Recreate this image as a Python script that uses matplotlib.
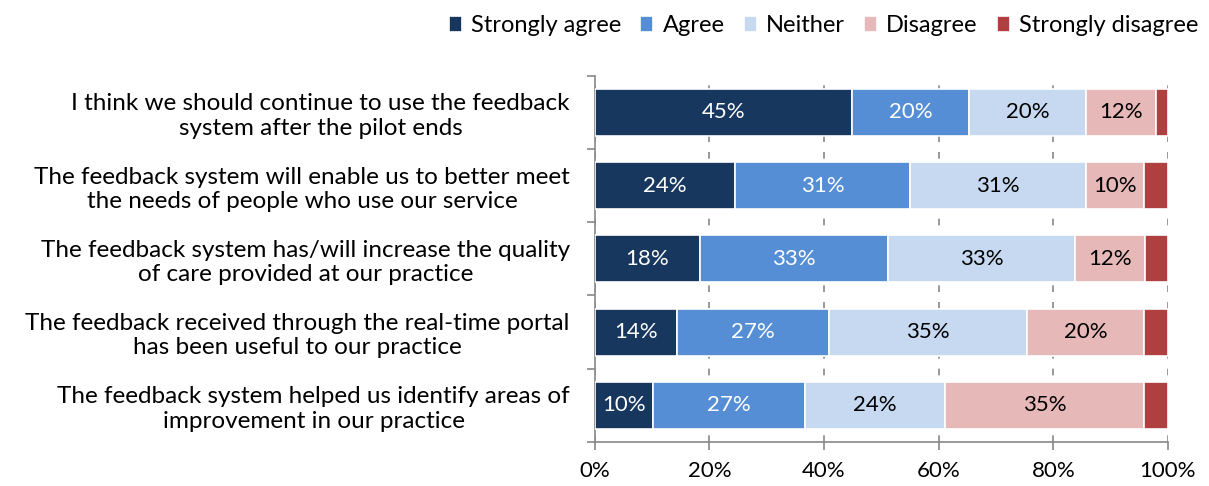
import numpy as np
import matplotlib
matplotlib.use("Agg")
import matplotlib.pyplot as plt

plt.rcParams['font.family'] = ['Lato', 'DejaVu Sans']

statements = [
    "I think we should continue to use the feedback\nsystem after the pilot ends",
    "The feedback system will enable us to better meet\nthe needs of people who use our service",
    "The feedback system has/will increase the quality\nof care provided at our practice",
    "The feedback received through the real-time portal\nhas been useful to our practice",
    "The feedback system helped us identify areas of\nimprovement in our practice",
]
series = ["Strongly agree", "Agree", "Neither", "Disagree", "Strongly disagree"]
strongly_agree = [44.9, 24.4, 18.4, 14.3, 10.2]
agree = [20.4, 30.6, 32.7, 26.5, 26.5]
neither = [20.4, 30.7, 32.7, 34.7, 24.4]
disagree = [12.3, 10.2, 12.2, 20.4, 34.8]
strongly_disagree = [2.0, 4.1, 4.0, 4.1, 4.1]
xticks = [0, 20, 40, 60, 80, 100]

colors = ["#17375e", "#558ed5", "#c6d9f1", "#e6b9b8", "#b04040"]
text_colors = ["white", "white", "black", "black", None]

fig = plt.figure(figsize=(12.09, 4.86), dpi=100)
ax = fig.add_axes([0.492, 0.0905, 0.474, 0.754])

y = np.arange(len(statements))
left = np.zeros(len(statements))
for name, vals, c, tc in zip(series,
                             [strongly_agree, agree, neither, disagree, strongly_disagree],
                             colors, text_colors):
    vals = np.array(vals)
    ax.barh(y, vals, left=left, height=0.64, color=c, edgecolor="white",
            linewidth=1.2, label=name, zorder=3)
    if tc is not None:
        for yi, l, v in zip(y, left, vals):
            ax.text(l + v / 2, yi, f"{int(v + 0.5)}%", ha="center", va="center",
                    color=tc, fontsize=16, zorder=4)
    left += vals

ax.set_xlim(0, 100)
ax.set_ylim(len(statements) - 0.5, -0.5)
ax.set_xticks(xticks)
ax.set_xticklabels([f"{t}%" for t in xticks], fontsize=16)
ax.set_yticks(y)
ax.set_yticklabels(statements, fontsize=17.5, multialignment="center", linespacing=1.2)
ax.set_yticks(np.arange(-0.5, len(statements), 1), minor=True)
ax.tick_params(axis="y", which="major", length=0, pad=18)
ax.tick_params(axis="y", which="minor", length=6, color="#888888", width=1.2)
ax.tick_params(axis="x", length=6, color="#888888", width=1.2, pad=8)
ax.xaxis.grid(True, linestyle=(0, (4, 6)), color="#888888", linewidth=1.2, zorder=0)
for s in ["top", "right"]:
    ax.spines[s].set_visible(False)
for s in ["left", "bottom"]:
    ax.spines[s].set_color("#888888")
    ax.spines[s].set_linewidth(1.2)

ax.legend(loc="upper right", bbox_to_anchor=(1.07, 1.19), ncol=5, frameon=False,
          fontsize=17, handlelength=0.55, handleheight=0.7, handletextpad=0.4,
          columnspacing=0.8, borderaxespad=0)

fig.savefig("out.png", dpi=100)
